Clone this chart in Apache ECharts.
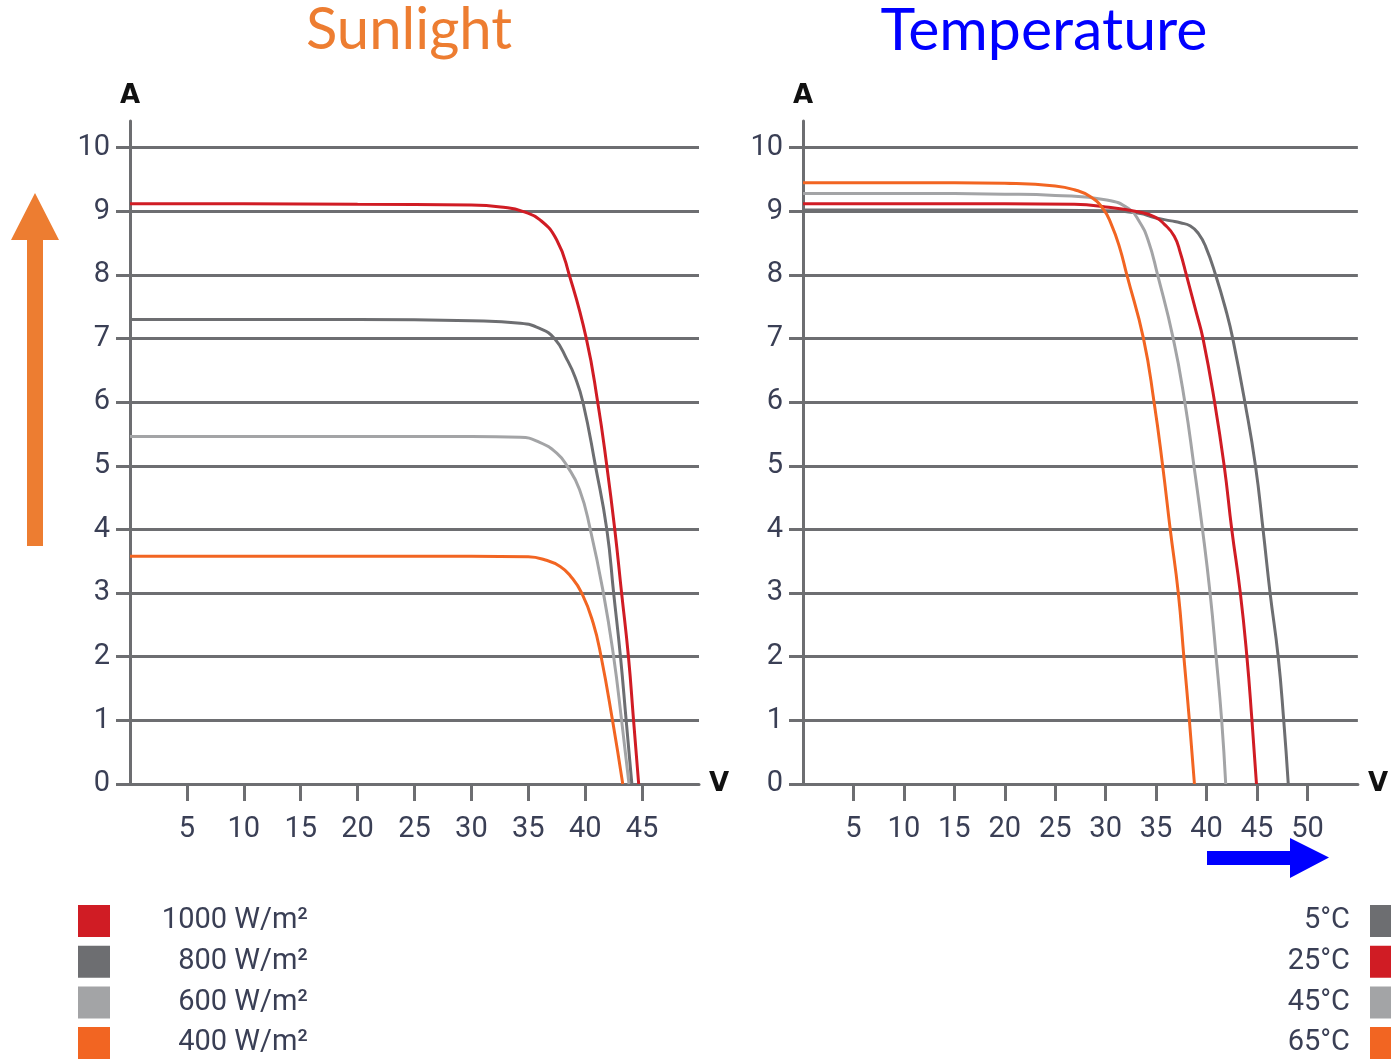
<!DOCTYPE html>
<html><head><meta charset="utf-8">
<script src="https://cdn.jsdelivr.net/npm/echarts@6/dist/echarts.min.js"></script>
<style>html,body{margin:0;padding:0;background:#fff}#c{width:1391px;height:1059px}</style>
</head><body><div id="c"></div>
<script>
// ---- axis ticks ----
const yTicks = [0,1,2,3,4,5,6,7,8,9,10];
const xTicksSun = [5,10,15,20,25,30,35,40,45];
const xTicksTemp = [5,10,15,20,25,30,35,40,45,50];

// ---- Sunlight (irradiance) curves: voltage V, current A ----
const sunNames = ['1000 W/m²','800 W/m²','600 W/m²','400 W/m²'];
const v1000 = [0, 10, 20, 30, 33, 34.5, 36, 37.5, 38.6, 40.1, 41.1, 41.9, 42.6, 43.2, 43.8, 44.25, 44.7];
const i1000 = [9.12, 9.12, 9.11, 9.1, 9.06, 9.0, 8.87, 8.55, 8.0, 7.0, 6.0, 5.0, 4.0, 3.0, 2.0, 1.0, 0];
const v800 = [0, 10, 20, 30, 34.3, 36, 37.3, 38.4, 39.1, 39.8, 40.9, 41.9, 42.5, 43.1, 43.6, 44.1];
const i800 = [7.3, 7.3, 7.3, 7.28, 7.24, 7.16, 7.0, 6.67, 6.4, 6.0, 5.0, 4.0, 3.0, 2.0, 1.0, 0];
const v600 = [0, 10, 20, 30, 34.3, 36, 37.5, 38.4, 39.5, 40.45, 41.6, 42.5, 43.2, 43.85];
const i600 = [5.46, 5.46, 5.46, 5.46, 5.45, 5.37, 5.2, 5.0, 4.63, 4.0, 3.0, 2.0, 1.0, 0];
const v400 = [0, 10, 20, 30, 35, 36.5, 37.8, 38.7, 39.7, 40.7, 41.4, 42.4, 43.3];
const i400 = [3.58, 3.58, 3.58, 3.58, 3.57, 3.52, 3.42, 3.27, 3.0, 2.53, 2.0, 1.0, 0];

// ---- Temperature curves ----
const tempNames = ['5°C','25°C','45°C','65°C'];
const v5 = [0, 10, 20, 30, 33.3, 34.9, 36.5, 37.4, 38.4, 39.2, 39.9, 40.9, 42.0, 42.6, 43.8, 44.85, 45.6, 46.3, 47.1, 47.65, 48.1];
const i5 = [9.02, 9.02, 9.02, 9.01, 8.97, 8.9, 8.85, 8.82, 8.77, 8.65, 8.45, 8.0, 7.4, 7.0, 6.0, 5.0, 4.0, 3.0, 2.0, 1.0, 0];
const v25 = [0, 10, 20, 26.9, 30, 33.3, 34.9, 35.8, 36.8, 37.4, 38.0, 39.0, 39.65, 40.8, 41.75, 42.5, 43.35, 44.0, 44.5, 44.95];
const i25 = [9.12, 9.12, 9.12, 9.11, 9.07, 8.99, 8.91, 8.8, 8.61, 8.35, 8.0, 7.4, 7.0, 6.0, 5.0, 4.0, 3.0, 2.0, 1.0, 0];
const v45 = [0, 10, 20, 25, 30.1, 32.3, 33.3, 34.2, 35.15, 36.7, 37.85, 38.75, 39.6, 40.35, 40.95, 41.5, 41.9];
const i45 = [9.28, 9.28, 9.27, 9.25, 9.18, 9.04, 8.85, 8.55, 8.0, 7.0, 6.0, 5.0, 4.0, 3.0, 2.0, 1.0, 0];
const v65 = [0, 10, 15, 20, 25, 26.9, 28.5, 29.75, 30.55, 31.35, 32.1, 33.75, 34.8, 35.65, 36.4, 37.2, 37.75, 38.3, 38.8];
const i65 = [9.45, 9.45, 9.45, 9.44, 9.4, 9.34, 9.23, 9.04, 8.8, 8.45, 8.0, 7.0, 6.0, 5.0, 4.0, 3.0, 2.0, 1.0, 0];

const C_RED = '#D01C24', C_DARK = '#6D6E71', C_LIGHT = '#A3A4A6', C_ORANGE = '#F26522';
const GRIDC = '#6D6E71';
const LABELC = '#3a3f55';
const zip = (v, i) => v.map((x, k) => [x, i[k]]);

function yAxis(g) {
  return {
    gridIndex: g, type: 'value', min: 0, max: 10.42, interval: 1,
    name: 'A', nameLocation: 'end', nameGap: 12,
    nameTextStyle: { fontSize: 26, fontWeight: 'bold', color: '#111', fontFamily: 'DejaVu Sans', align: 'center', verticalAlign: 'bottom' },
    axisLine: { show: true, lineStyle: { color: GRIDC, width: 3 } },
    axisTick: { show: true, customValues: yTicks, length: 14, lineStyle: { color: GRIDC, width: 3 } },
    axisLabel: { customValues: yTicks, margin: 20, fontSize: 29, color: LABELC, fontFamily: 'Roboto', verticalAlign: 'middle', padding: [0, 0, 16, 0] },
    splitLine: { show: true, lineStyle: { color: GRIDC, width: 3 } }
  };
}
function xAxis(g, max, ticks) {
  return {
    gridIndex: g, type: 'value', min: 0, max: max, interval: 5,
    name: 'V', nameLocation: 'end', nameGap: 10,
    nameTextStyle: { fontSize: 26, fontWeight: 'bold', color: '#111', fontFamily: 'DejaVu Sans', verticalAlign: 'middle' },
    axisLine: { show: true, onZero: false, lineStyle: { color: GRIDC, width: 3 } },
    axisTick: { show: true, customValues: ticks, length: 17, lineStyle: { color: GRIDC, width: 3 } },
    axisLabel: { customValues: ticks, margin: 31, fontSize: 29, color: LABELC, fontFamily: 'Roboto' },
    splitLine: { show: false }
  };
}
function line(name, g, data, color) {
  return {
    name: name, type: 'line', xAxisIndex: g, yAxisIndex: g, data: data,
    symbol: 'none', smooth: 0.5, color: color,
    lineStyle: { color: color, width: 3 }, silent: true
  };
}
function legend(names, left, alignRight) {
  return {
    orient: 'vertical', left: left, top: 905, height: 240, padding: 0,
    itemWidth: 32, itemHeight: 32, itemGap: 8.7, icon: 'rect',
    align: alignRight ? 'right' : 'left', selectedMode: false,
    data: names,
    formatter: alignRight ? (n => '{t|' + n + '}{s|}') : (n => '{t|' + n + '}'),
    textStyle: {
      rich: {
        t: { width: alignRight ? 100 : 193, align: 'right', fontSize: 29, lineHeight: 32, color: LABELC, fontFamily: 'Roboto' },
        s: { width: 15, lineHeight: 32 }
      }
    }
  };
}

const chart = echarts.init(document.getElementById('c'), null, { renderer: 'canvas' });
chart.setOption({
  animation: false,
  backgroundColor: '#fff',
  title: [
    { text: 'Sunlight', left: 404, textAlign: 'center', top: -4, textStyle: { color: '#ED7D31', fontSize: 58, fontFamily: 'Lato', fontWeight: 'normal' } },
    { text: 'Temperature', left: 1039, textAlign: 'center', top: -4, textStyle: { color: '#0000FF', fontSize: 59, fontFamily: 'Lato', fontWeight: 'normal' } }
  ],
  grid: [
    { left: 130, top: 121, width: 569, height: 663 },
    { left: 803, top: 121, width: 573.6, height: 663 }
  ],
  xAxis: [xAxis(0, 50, xTicksSun), xAxis(1, 55, xTicksTemp)],
  yAxis: [yAxis(0), yAxis(1)],
  legend: [legend(sunNames, 78, false), legend(tempNames, 1250, true)],
  series: [
    line(sunNames[3], 0, zip(v400, i400), C_ORANGE),
    line(sunNames[2], 0, zip(v600, i600), C_LIGHT),
    line(sunNames[1], 0, zip(v800, i800), C_DARK),
    line(sunNames[0], 0, zip(v1000, i1000), C_RED),
    line(tempNames[0], 1, zip(v5, i5), C_DARK),
    line(tempNames[2], 1, zip(v45, i45), C_LIGHT),
    line(tempNames[1], 1, zip(v25, i25), C_RED),
    line(tempNames[3], 1, zip(v65, i65), C_ORANGE)
  ],
  graphic: [
    { type: 'polygon', silent: true, shape: { points: [[27,546],[43,546],[43,240],[59,240],[35,193],[11,240],[27,240]] }, style: { fill: '#ED7D31' } },
    { type: 'polygon', silent: true, shape: { points: [[1207,851],[1290,851],[1290,838],[1329,857.5],[1290,878],[1290,865],[1207,865]] }, style: { fill: '#0000FF' } }
  ]
});
</script>
</body></html>
